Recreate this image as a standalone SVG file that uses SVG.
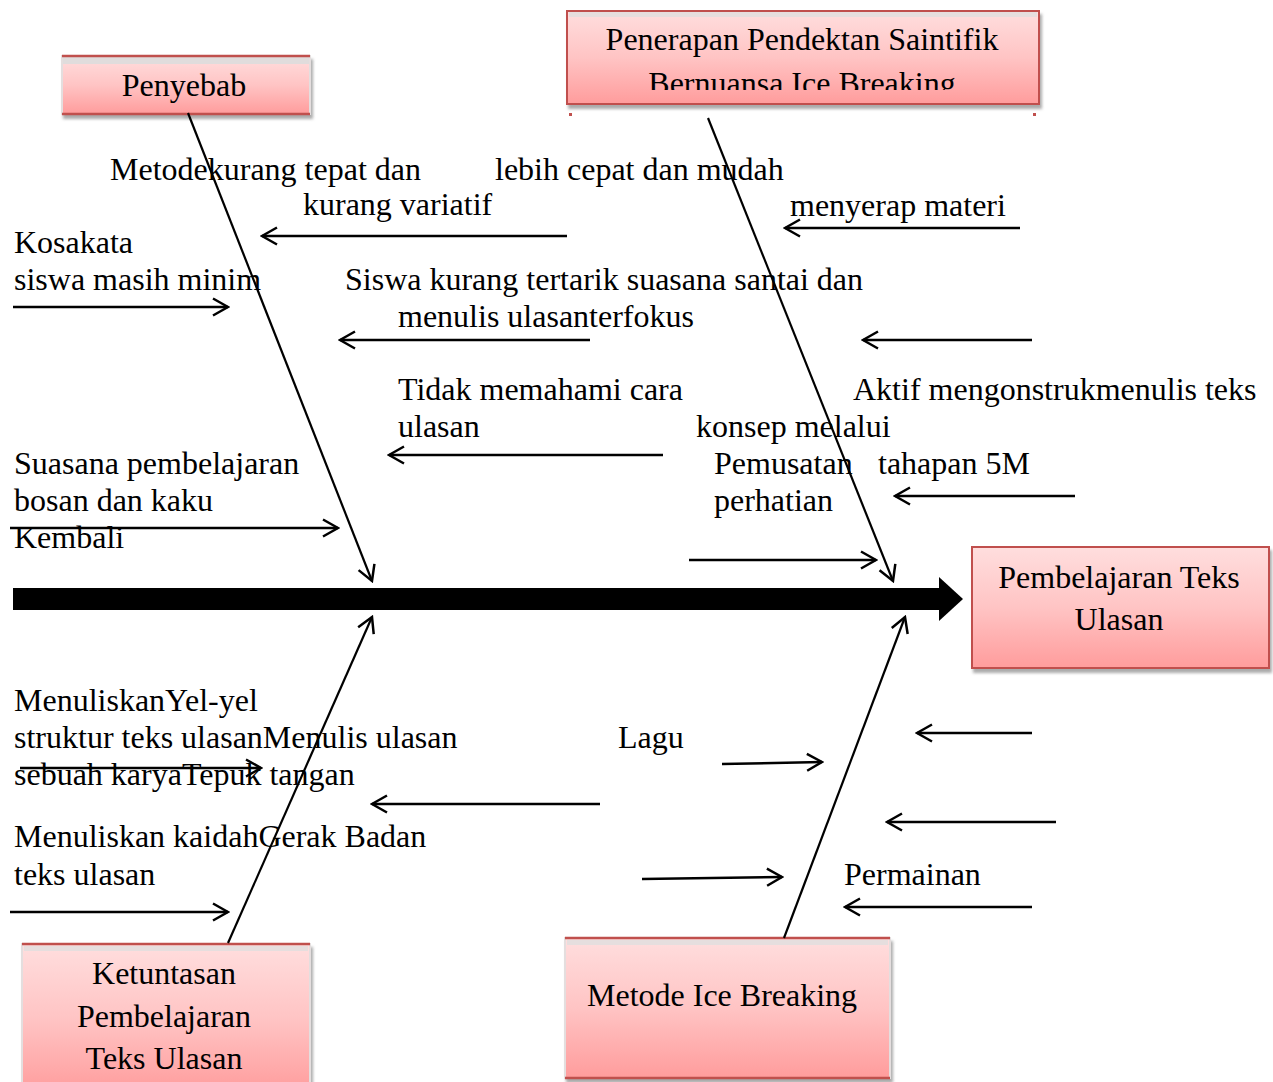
<svg xmlns="http://www.w3.org/2000/svg" width="1273" height="1082" viewBox="0 0 1273 1082">
<defs>
  <linearGradient id="pink" x1="0" y1="0" x2="0" y2="1">
    <stop offset="0" stop-color="#ffdede"/>
    <stop offset="0.5" stop-color="#ffc4c4"/>
    <stop offset="1" stop-color="#ff9c9c"/>
  </linearGradient>
  <marker id="ah" markerUnits="userSpaceOnUse" markerWidth="20" markerHeight="20" viewBox="0 0 20 20" refX="18" refY="10" orient="auto">
    <path d="M3,1.5 L18,10 L3,18.5" fill="none" stroke="#000" stroke-width="2.5"/>
  </marker>
  <filter id="sh" x="-5%" y="-5%" width="112%" height="120%">
    <feDropShadow dx="2" dy="4" stdDeviation="1.5" flood-color="#888" flood-opacity="0.7"/>
  </filter>
</defs>
<style>
  text { font-family: "Liberation Serif", "Times New Roman", serif; font-size: 32px; fill: #000; }
  .mid { text-anchor: middle; }
  .box { fill: url(#pink); stroke: #c0504d; stroke-width: 2; filter: url(#sh); }
  .boxs { fill: url(#pink); stroke: #e4dede; stroke-width: 2; filter: url(#sh); }
  .red { stroke: #c0504d; stroke-width: 2.5; }
  .bone { stroke: #000; stroke-width: 2.2; fill: none; marker-end: url(#ah); }
  .sub { stroke: #000; stroke-width: 2.5; fill: none; marker-end: url(#ah); }
</style>
<rect width="1273" height="1082" fill="#fff"/>

<g id="node-penyebab">
  <rect class="boxs" x="62" y="56" width="248" height="58"/>
  <rect x="63" y="57" width="246" height="7" fill="#e0dcdc"/>
  <line class="red" x1="62" y1="56" x2="310" y2="56"/>
  <line class="red" x1="62" y1="114" x2="310" y2="114"/>
  <text class="mid" x="184" y="96">Penyebab</text>
</g>

<g id="node-penerapan">
  <clipPath id="clipP"><rect x="567" y="10" width="473" height="80"/></clipPath>
  <rect class="box" x="567" y="11" width="472" height="93"/>
  <rect x="569" y="12" width="468" height="5" fill="#e6dede"/>
  <g clip-path="url(#clipP)">
    <text class="mid" x="802" y="50">Penerapan Pendektan Saintifik</text>
    <text class="mid" x="802" y="94">Bernuansa Ice Breaking</text>
  </g>
  <rect x="569" y="113" width="3" height="3" fill="#c0504d"/>
  <rect x="1033" y="113" width="3" height="3" fill="#c0504d"/>
</g>

<g id="node-pembelajaran">
  <rect class="box" x="972" y="547" width="297" height="121"/>
  <text class="mid" x="1119" y="588">Pembelajaran Teks</text>
  <text class="mid" x="1119" y="630">Ulasan</text>
</g>

<g id="node-ketuntasan">
  <rect class="boxs" x="22" y="944" width="288" height="150"/>
  <rect x="24" y="946" width="284" height="5" fill="#e6dede"/>
  <line class="red" x1="22" y1="944" x2="310" y2="944"/>
  <text class="mid" x="164" y="984">Ketuntasan</text>
  <text class="mid" x="164" y="1027">Pembelajaran</text>
  <text class="mid" x="164" y="1069">Teks Ulasan</text>
</g>

<g id="node-metode">
  <rect class="boxs" x="565" y="938" width="325" height="140"/>
  <rect x="567" y="940" width="321" height="5" fill="#e6dede"/>
  <line class="red" x1="565" y1="938" x2="890" y2="938"/>
  <line class="red" x1="565" y1="1078" x2="890" y2="1078"/>
  <text x="587" y="1006">Metode Ice Breaking</text>
</g>

<g id="spine">
  <rect x="13" y="588" width="928" height="22" fill="#000"/>
  <polygon points="939,577 963,599 939,621" fill="#000"/>
</g>

<g id="connectors">
  <line class="bone" x1="188" y1="113" x2="372" y2="581"/>
  <line class="bone" x1="708" y1="118" x2="893" y2="581"/>
  <line class="bone" x1="228" y1="943" x2="372" y2="617"/>
  <line class="bone" x1="784" y1="938" x2="905" y2="617"/>

  <line class="sub" x1="567" y1="236" x2="262" y2="236"/>
  <line class="sub" x1="13" y1="307" x2="228" y2="307"/>
  <line class="sub" x1="590" y1="340" x2="340" y2="340"/>
  <line class="sub" x1="663" y1="455" x2="389" y2="455"/>
  <line class="sub" x1="10" y1="528" x2="338" y2="528"/>

  <line class="sub" x1="1020" y1="228" x2="785" y2="228"/>
  <line class="sub" x1="1032" y1="340" x2="863" y2="340"/>
  <line class="sub" x1="1075" y1="496" x2="895" y2="496"/>
  <line class="sub" x1="689" y1="560" x2="876" y2="560"/>

  <line class="sub" x1="20" y1="768" x2="261" y2="768"/>
  <line class="sub" x1="600" y1="804" x2="372" y2="804"/>
  <line class="sub" x1="10" y1="912" x2="228" y2="912"/>

  <line class="sub" x1="722" y1="764" x2="822" y2="762"/>
  <line class="sub" x1="1032" y1="733" x2="917" y2="733"/>
  <line class="sub" x1="1056" y1="822" x2="887" y2="822"/>
  <line class="sub" x1="642" y1="879" x2="782" y2="877"/>
  <line class="sub" x1="1032" y1="907" x2="845" y2="907"/>
</g>

<g id="labels">
  <text x="110" y="180">Metodekurang tepat dan</text>
  <text x="495" y="180">lebih cepat dan mudah</text>
  <text x="303" y="215">kurang variatif</text>
  <text x="790" y="216">menyerap materi</text>
  <text x="14" y="253">Kosakata</text>
  <text x="14" y="290">siswa masih minim</text>
  <text x="345" y="290">Siswa kurang tertarik suasana santai dan</text>
  <text x="398" y="327">menulis ulasanterfokus</text>
  <text x="398" y="400">Tidak memahami cara</text>
  <text x="853" y="400">Aktif mengonstrukmenulis teks</text>
  <text x="398" y="437">ulasan</text>
  <text x="696" y="437">konsep melalui</text>
  <text x="14" y="474">Suasana pembelajaran</text>
  <text x="714" y="474">Pemusatan</text>
  <text x="878" y="474">tahapan 5M</text>
  <text x="14" y="511">bosan dan kaku</text>
  <text x="714" y="511">perhatian</text>
  <text x="14" y="548">Kembali</text>
  <text x="14" y="711">MenuliskanYel-yel</text>
  <text x="14" y="748">struktur teks ulasanMenulis ulasan</text>
  <text x="618" y="748">Lagu</text>
  <text x="14" y="785">sebuah karyaTepuk tangan</text>
  <text x="14" y="847">Menuliskan kaidahGerak Badan</text>
  <text x="14" y="885">teks ulasan</text>
  <text x="844" y="885">Permainan</text>
</g>
</svg>
